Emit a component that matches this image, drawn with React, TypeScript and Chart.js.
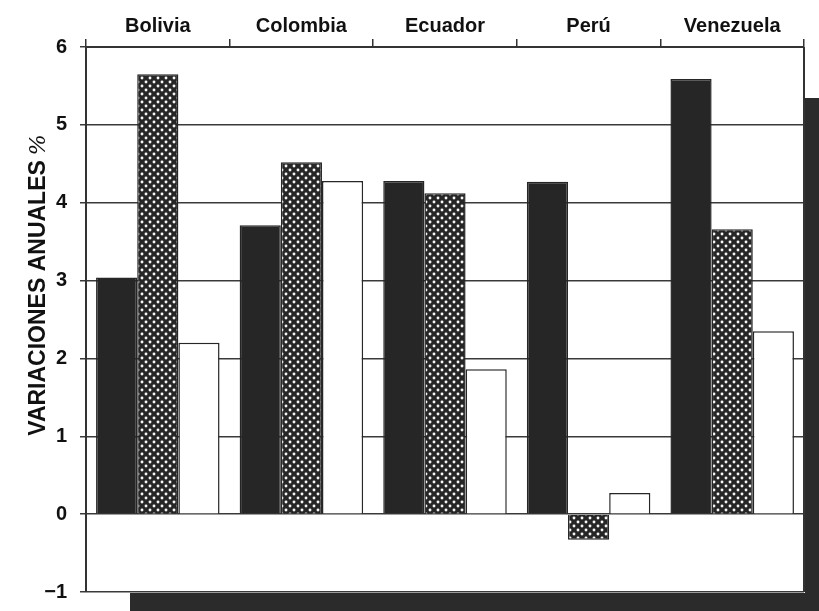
import React, { useEffect, useRef } from 'react';
import { Chart, registerables } from 'chart.js';

Chart.register(...registerables);

// ---- data ----
const categories = ['Bolivia', 'Colombia', 'Ecuador', 'Perú', 'Venezuela'];
const seriesBlack = [3.04, 3.71, 4.28, 4.27, 5.59];
const seriesDotted = [5.65, 4.52, 4.12, -0.33, 3.66];
const seriesWhite = [2.2, 4.28, 1.86, 0.27, 2.35];
const yMin = -1;
const yMax = 6;
const yStep = 1;
const yTitleMain = 'VARIACIONES ANUALES';
const yTitleUnit = '%';

const FONT = '"Liberation Sans", Arial, sans-serif';
const INK = '#262626';

function makeDotPattern(): CanvasPattern | string {
  const c = document.createElement('canvas');
  c.width = 8;
  c.height = 8;
  const g = c.getContext('2d');
  if (!g) return INK;
  g.fillStyle = INK;
  g.fillRect(0, 0, 8, 8);
  g.fillStyle = '#f6f6f6';
  [[2, 2], [6, 6]].forEach(([x, y]) => {
    g.beginPath();
    g.arc(x, y, 1.45, 0, Math.PI * 2);
    g.fill();
  });
  return g.createPattern(c, 'repeat') || INK;
}

const framePlugin = {
  id: 'frame',
  beforeDraw(chart: any) {
    const { ctx, chartArea } = chart;
    const W = chart.width;
    const H = chart.height;
    ctx.save();
    ctx.fillStyle = '#2b2b2b';
    // drop shadow right & bottom
    ctx.fillRect(chartArea.right + 1, chartArea.top + 51, W - chartArea.right - 1, H - chartArea.top - 51);
    ctx.fillRect(chartArea.left + 44, chartArea.bottom + 1, W - chartArea.left - 44, H - chartArea.bottom - 1);
    ctx.restore();
  },
  afterDraw(chart: any) {
    const { ctx, chartArea } = chart;
    ctx.save();
    ctx.strokeStyle = '#333';
    ctx.lineWidth = 2;
    ctx.beginPath();
    ctx.moveTo(chartArea.right, chartArea.top);
    ctx.lineTo(chartArea.right, chartArea.bottom);
    ctx.stroke();

    // rotated y title
    const cx = 39;
    const cy = 285;
    ctx.translate(cx, cy);
    ctx.rotate(-Math.PI / 2);
    ctx.textBaseline = 'middle';
    ctx.textAlign = 'left';
    const mainFont = `bold 23px ${FONT}`;
    const unitFont = `italic 22px "DejaVu Serif", "Liberation Serif", serif`;
    ctx.font = mainFont;
    const wMain = ctx.measureText(yTitleMain).width;
    ctx.font = unitFont;
    const wUnit = ctx.measureText(yTitleUnit).width;
    const gap = 5;
    const total = wMain + gap + wUnit;
    ctx.fillStyle = '#111';
    ctx.font = mainFont;
    ctx.fillText(yTitleMain, -total / 2, 0);
    ctx.font = unitFont;
    ctx.fillText(yTitleUnit, -total / 2 + wMain + gap, 0);
    ctx.restore();
  },
};

export default function App() {
  const ref = useRef<HTMLCanvasElement | null>(null);

  useEffect(() => {
    const canvas = ref.current;
    if (!canvas) return;
    const dots = makeDotPattern();
    const common = { borderColor: INK, borderWidth: 1.5, barPercentage: 1, categoryPercentage: 0.86 };
    const chart = new Chart(canvas, {
      type: 'bar',
      data: {
        labels: categories,
        datasets: [
          { label: 'A', data: seriesBlack, backgroundColor: INK, ...common },
          { label: 'B', data: seriesDotted, backgroundColor: dots as any, ...common },
          { label: 'C', data: seriesWhite, backgroundColor: '#ffffff', ...common },
        ],
      },
      options: {
        animation: false,
        responsive: false,
        maintainAspectRatio: false,
        layout: { padding: { left: 0, right: 15, top: 0, bottom: 19 } },
        plugins: { legend: { display: false }, tooltip: { enabled: false } },
        scales: {
          x: {
            position: 'top',
            grid: { offset: true, drawOnChartArea: false, tickLength: 8, color: '#333', lineWidth: 1.5 },
            border: { display: true, color: '#333', width: 2 },
            ticks: { font: { family: FONT, size: 20, weight: 'bold' }, color: '#111', padding: 1, maxRotation: 0 },
            afterFit: (s: any) => { s.height = 47; },
          },
          y: {
            min: yMin,
            max: yMax,
            ticks: {
              stepSize: yStep,
              font: { family: FONT, size: 20, weight: 'bold' },
              color: '#111',
              padding: 13,
              callback: (v: any) => String(v).replace('-', '\u2212'),
            },
            grid: { color: '#3a3a3a', lineWidth: 1.5, tickLength: 6 },
            border: { display: true, color: '#333', width: 2 },
            afterFit: (s: any) => {
              s.width = 86;
              s.paddingTop = 0;
              s.paddingBottom = 0;
            },
          },
        },
      },
      plugins: [framePlugin],
    } as any);
    return () => chart.destroy();
  }, []);

  return (
    <div style={{ position: 'fixed', left: 0, top: 0, width: 819, height: 611, background: '#fff' }}>
      <canvas ref={ref} width={819} height={611} style={{ width: 819, height: 611, display: 'block' }} />
    </div>
  );
}
